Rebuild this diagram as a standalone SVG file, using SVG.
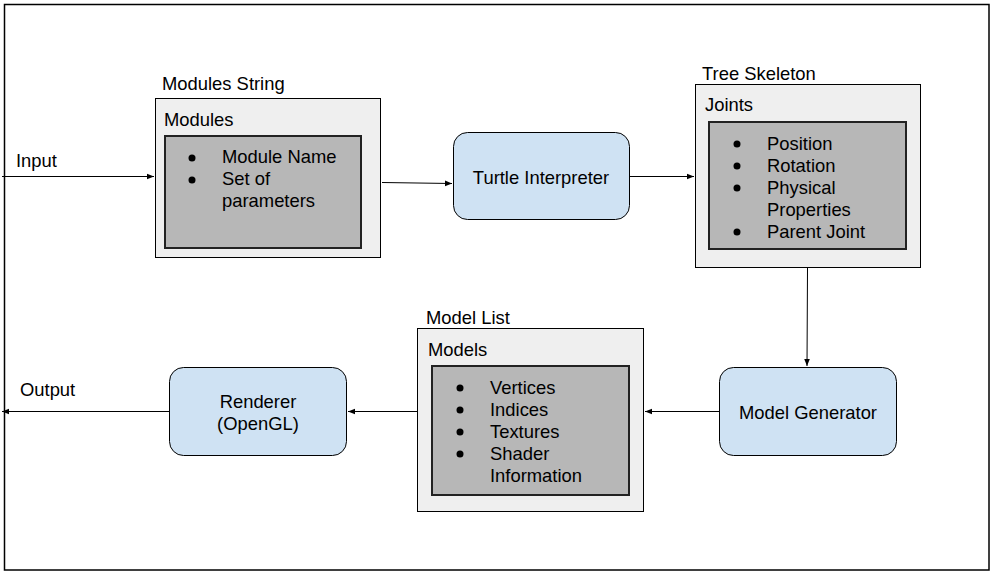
<svg xmlns="http://www.w3.org/2000/svg" width="993" height="575" viewBox="0 0 993 575">
<defs>
<style>
text{font-family:"Liberation Sans",Arial,sans-serif;font-size:18.4px;fill:#000}
.outer{fill:#efefef;stroke:#000;stroke-width:1}
.inner{fill:#b7b7b7;stroke:#222;stroke-width:2}
.proc{fill:#cfe2f3;stroke:#000;stroke-width:1}
.c{text-anchor:middle}
.edge{stroke:#000;stroke-width:1;fill:none;marker-end:url(#ah)}
</style>
<marker id="ah" viewBox="0 0 10 10" refX="10" refY="5" markerWidth="7" markerHeight="7" markerUnits="userSpaceOnUse" orient="auto">
<path d="M0,1 L10,5 L0,9 z" fill="#000"/>
</marker>
</defs>
<rect width="993" height="575" fill="#fff"/>
<rect x="4.5" y="4.5" width="984.5" height="565.5" fill="none" stroke="#000" stroke-width="1.5"/>

<g id="modules-string">
<text x="162" y="90">Modules String</text>
<rect class="outer" x="155.5" y="98.5" width="225" height="159"/>
<text x="164" y="126">Modules</text>
<rect class="inner" x="165" y="136" width="196" height="112"/>
<circle cx="192" cy="158" r="3.5"/><text x="222" y="163">Module Name</text>
<circle cx="192" cy="180" r="3.5"/><text x="222" y="185">Set of</text>
<text x="222" y="207">parameters</text>
</g>

<g id="turtle-interpreter">
<rect class="proc" x="453.5" y="132.5" width="176" height="87" rx="14"/>
<text class="c" x="541" y="184">Turtle Interpreter</text>
</g>

<g id="tree-skeleton">
<text x="702" y="80">Tree Skeleton</text>
<rect class="outer" x="695.5" y="84.5" width="225" height="183"/>
<text x="705" y="111">Joints</text>
<rect class="inner" x="709" y="122" width="197" height="127"/>
<circle cx="737" cy="144" r="3.5"/><text x="767" y="150">Position</text>
<circle cx="737" cy="166" r="3.5"/><text x="767" y="172">Rotation</text>
<circle cx="737" cy="188" r="3.5"/><text x="767" y="194">Physical</text>
<text x="767" y="216">Properties</text>
<circle cx="737" cy="232" r="3.5"/><text x="767" y="238">Parent Joint</text>
</g>

<g id="model-generator">
<rect class="proc" x="719.5" y="367.5" width="177" height="88" rx="14"/>
<text class="c" x="808" y="419">Model Generator</text>
</g>

<g id="model-list">
<text x="426" y="324">Model List</text>
<rect class="outer" x="417.5" y="328.5" width="226" height="183"/>
<text x="428" y="356">Models</text>
<rect class="inner" x="432" y="366" width="197" height="129"/>
<circle cx="460" cy="388" r="3.5"/><text x="490" y="394">Vertices</text>
<circle cx="460" cy="410" r="3.5"/><text x="490" y="416">Indices</text>
<circle cx="460" cy="432" r="3.5"/><text x="490" y="438">Textures</text>
<circle cx="460" cy="454" r="3.5"/><text x="490" y="460">Shader</text>
<text x="490" y="482">Information</text>
</g>

<g id="renderer">
<rect class="proc" x="169.5" y="367.5" width="177" height="88" rx="14"/>
<text class="c" x="258" y="408">Renderer</text>
<text class="c" x="258" y="430">(OpenGL)</text>
</g>

<g id="connectors">
<line class="edge" x1="2" y1="176.5" x2="154" y2="176.5"/>
<text x="16" y="167">Input</text>
<line class="edge" x1="382" y1="182.5" x2="452" y2="183.5"/>
<line class="edge" x1="630" y1="176.5" x2="694" y2="176.5"/>
<line class="edge" x1="807.5" y1="268" x2="807" y2="366"/>
<line class="edge" x1="719" y1="411.5" x2="645" y2="411.5"/>
<line class="edge" x1="417" y1="411.5" x2="348" y2="411.5"/>
<line class="edge" x1="169" y1="411.5" x2="2" y2="411.5"/>
<text x="20" y="396">Output</text>
</g>
</svg>
